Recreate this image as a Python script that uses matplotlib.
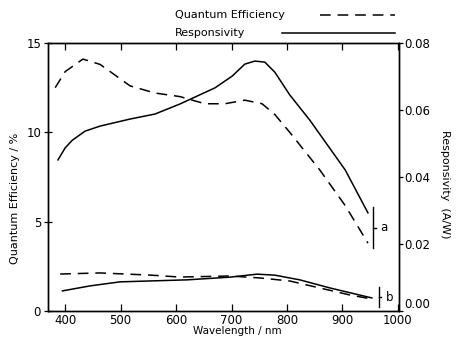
import matplotlib
matplotlib.use('agg')
import matplotlib.pyplot as plt
from matplotlib.lines import Line2D

# curve a (upper pair)
qeA_wl = [382, 400, 432, 463, 490, 517, 562, 607, 652, 688, 724, 755, 778, 805, 859, 905, 946]
qeA = [12.5, 13.4, 14.1, 13.8, 13.2, 12.6, 12.2, 12.0, 11.6, 11.6, 11.8, 11.6, 11.0, 10.0, 7.9, 5.9, 3.8]
respA_wl = [387, 400, 413, 436, 463, 517, 562, 607, 670, 701, 724, 742, 760, 778, 805, 841, 905, 946]
respA = [0.0451, 0.0487, 0.0510, 0.0537, 0.0552, 0.0573, 0.0588, 0.0618, 0.0666, 0.0701,
         0.0737, 0.0746, 0.0743, 0.0713, 0.0645, 0.0570, 0.0421, 0.0293]

# curve b (lower pair)
qeB_wl = [391, 463, 553, 607, 697, 751, 805, 859, 913, 953]
qeB = [2.07, 2.13, 2.01, 1.90, 1.96, 1.85, 1.68, 1.29, 0.90, 0.67]
respB_wl = [395, 445, 499, 620, 697, 746, 778, 823, 877, 953]
respB = [0.0060, 0.0075, 0.0087, 0.0093, 0.0101, 0.0110, 0.0107, 0.0093, 0.0069, 0.0039]

xTicks = [400, 500, 600, 700, 800, 900, 1000]
xTickLabels = ['400', '500', '600', '700', '800', '900', '1000']
qeTicks = [0, 5, 10, 15]
respTicks = [0.00, 0.02, 0.04, 0.06, 0.08]

W, H = 457, 340
fig = plt.figure(figsize=(W / 100, H / 100), dpi=100)
ax = fig.add_axes([48 / W, 1 - 311 / H, (399 - 48) / W, (311 - 43) / H])
ax2 = ax.twinx()

lw = 1.1
dash = (0, (7, 4.5))
ax.plot(qeA_wl, qeA, color='black', lw=lw, linestyle=dash)
ax.plot(qeB_wl, qeB, color='black', lw=lw, linestyle=dash)
ax2.plot(respA_wl, respA, color='black', lw=lw)
ax2.plot(respB_wl, respB, color='black', lw=lw)

ax.set_xlim(369, 1002)
ax.set_ylim(0, 15)
ax2.set_ylim(0, 0.08)

ax.set_xticks(xTicks)
ax.set_xticklabels(xTickLabels, fontsize=8.5)
ax.set_yticks(qeTicks)
ax.set_yticklabels([str(t) for t in qeTicks], fontsize=8.5)
ax2.set_yticks(respTicks)
ax2.set_yticklabels(['%.2f' % t for t in respTicks], fontsize=8.5)
# the 0.00 label sits just above the 1000 label, as in the scan
ax2.get_yticklabels()[0].set_va('bottom')

ax.tick_params(axis='x', direction='in', top=True, length=5, width=0.9, pad=2)
ax.tick_params(axis='y', direction='inout', length=6, width=0.9, pad=2)
ax2.tick_params(axis='y', direction='out', length=3, width=0.9, pad=1)
for a in (ax, ax2):
    for s in a.spines.values():
        s.set_linewidth(1.0)

ax.set_xlabel('Wavelength / nm', fontsize=7.5, va='center')
ax.xaxis.set_label_coords((237 - 48) / (399 - 48), -(331 - 311) / (311 - 43))
ax.set_ylabel('Quantum Efficiency / %', fontsize=8)
ax.yaxis.set_label_coords(-(48 - 20) / (399 - 48), (311 - 198) / (311 - 43))
ax2.set_ylabel('Responsivity  (A/W)', fontsize=8, rotation=-90, va='center')
ax2.yaxis.set_label_coords(1 + (445 - 399) / (399 - 48), (311 - 184) / (311 - 43))

# brackets marking the pairs
ax.plot([955, 955], [3.5, 5.8], color='black', lw=1.0)
ax.plot([955, 960], [4.65, 4.65], color='black', lw=1.0)
ax.text(975, 4.65, 'a', fontsize=8.5, va='center', ha='center')
ax.plot([966, 966], [0.2, 1.35], color='black', lw=1.0)
ax.plot([966, 970], [0.78, 0.78], color='black', lw=1.0)
ax.text(985, 0.78, 'b', fontsize=8.5, va='center', ha='center')

# key above the plot
fig.text(175 / W, 1 - 15 / H, 'Quantum Efficiency', fontsize=8, va='center')
fig.add_artist(Line2D([320 / W, 395 / W], [1 - 15 / H] * 2, color='black', lw=lw, linestyle=dash))
fig.text(175 / W, 1 - 33 / H, 'Responsivity', fontsize=8, va='center')
fig.add_artist(Line2D([282 / W, 395 / W], [1 - 33 / H] * 2, color='black', lw=lw))

plt.savefig('out.png', dpi=100)
